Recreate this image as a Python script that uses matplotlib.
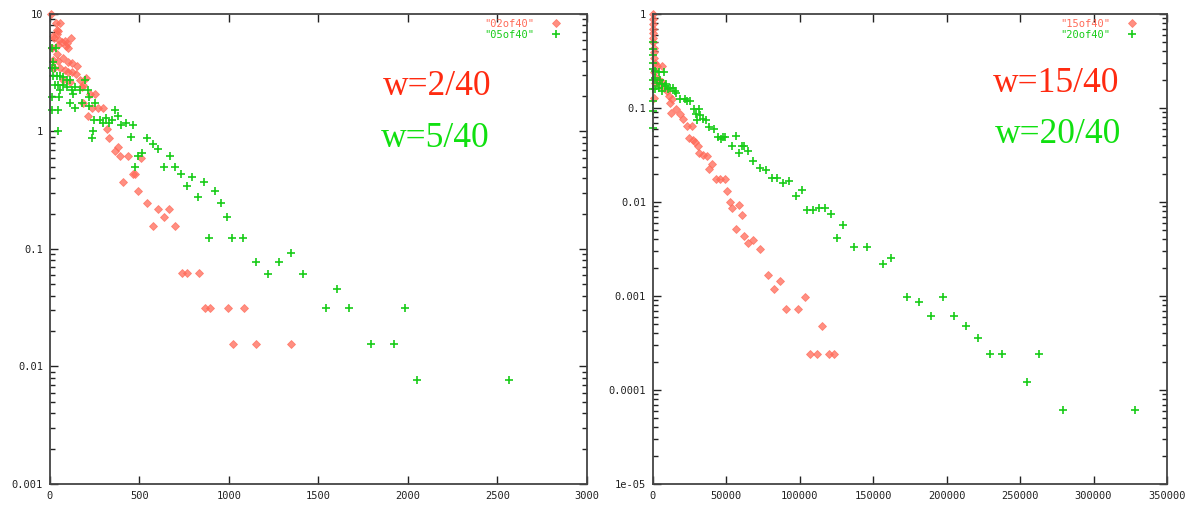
import matplotlib
matplotlib.use("Agg")
import matplotlib.pyplot as plt
from matplotlib.ticker import LogLocator, NullFormatter, FixedLocator, FixedFormatter

# left panel: "02of40" (diamonds) and "05of40" (plus)
x02 = [4, 33, 56, 37, 46, 18, 41, 22, 52, 65, 84, 93, 117, 102, 89, 46, 9, 37, 18, 46,
       74, 102, 121, 153, 24, 56, 84, 102, 121, 145, 167, 201, 186, 74, 112, 177, 223, 251, 186, 233,
       270, 294, 214, 316, 331, 363, 378, 391, 434, 508, 466, 475, 410, 493, 540, 605, 666, 637, 573, 698,
       737, 767, 832, 864, 894, 993, 1085, 1025, 1151, 1349]
y02 = [10, 8.4, 8.4, 7.3, 7.1, 6.5, 6.8, 6.2, 6.0, 5.8, 5.9, 5.7, 6.2, 5.1, 5.3, 5.4, 5.1, 4.6, 4.06, 4.0,
       4.2, 3.9, 3.85, 3.6, 3.45, 3.45, 3.33, 3.2, 3.2, 3.1, 2.74, 2.83, 2.49, 2.74, 2.65, 2.38, 2.08, 2.08, 1.76, 1.6,
       1.6, 1.57, 1.36, 1.06, 0.875, 0.687, 0.743, 0.618, 0.618, 0.591, 0.435, 0.435, 0.374, 0.31, 0.248, 0.219, 0.219, 0.186, 0.157, 0.157,
       0.0625, 0.0625, 0.0625, 0.03125, 0.03125, 0.03125, 0.03125, 0.0156, 0.0156, 0.0156]

x05 = [9, 33, 18, 9, 28, 18, 37, 56, 74, 93, 112, 28, 46, 74, 56, 121, 167, 214, 126, 9,
       52, 93, 140, 195, 220, 9, 46, 46, 112, 140, 177, 220, 246, 251, 279, 298, 313, 331, 348, 363,
       378, 395, 424, 465, 450, 238, 233, 540, 574, 605, 493, 512, 477, 637, 670, 698, 732, 763, 795, 860,
       829, 922, 953, 987, 890, 1019, 1080, 1151, 1281, 1349, 1216, 1412, 1603, 1541, 1668, 1986, 1794, 1921, 2050, 2565]
y05 = [5.1, 5.1, 3.93, 3.45, 3.45, 2.97, 2.97, 2.97, 2.89, 2.74, 2.74, 2.49, 2.49, 2.49, 2.25, 2.25, 2.25, 2.25, 2.08, 1.98,
       1.98, 2.41, 2.38, 2.74, 1.98, 1.52, 1.52, 1.0, 1.76, 1.6, 1.74, 1.65, 1.25, 1.74, 1.25, 1.17, 1.29, 1.17, 1.25, 1.52,
       1.36, 1.13, 1.17, 1.13, 0.89, 1.0, 0.887, 0.887, 0.778, 0.715, 0.618, 0.66, 0.5, 0.5, 0.618, 0.5, 0.435, 0.343, 0.407, 0.374,
       0.279, 0.312, 0.248, 0.186, 0.125, 0.125, 0.125, 0.077, 0.077, 0.093, 0.0612, 0.0612, 0.046, 0.03125, 0.03125, 0.03125, 0.0156, 0.0156, 0.0077, 0.0077]

# right panel: "15of40" (diamonds) and "20of40" (plus)
x15 = [0, 100, 100, 200, 200, 300, 300, 400, 400, 500, 1500, 2700, 6100, 1000, 2300, 3900, 6100, 1200, 5000, 7300,
       9600, 10700, 500, 12700, 11600, 15700, 12000, 18400, 20200, 22900, 26300, 24700, 27500, 28600, 30900, 31600, 34300, 36600, 39900, 38100,
       42900, 45600, 49000, 50600, 52400, 54100, 58600, 60400, 56500, 62000, 68300, 64700, 72900, 78000, 86200, 82500, 103300, 90600, 98700, 114900,
       106900, 111400, 119600, 123000]
y15 = [1.0, 0.88, 0.78, 0.70, 0.63, 0.56, 0.50, 0.44, 0.39, 0.343, 0.30, 0.28, 0.28, 0.24, 0.21, 0.20, 0.19, 0.186, 0.175, 0.165,
       0.15, 0.134, 0.129, 0.124, 0.114, 0.097, 0.089, 0.086, 0.077, 0.064, 0.064, 0.048, 0.046, 0.043, 0.039, 0.033, 0.032, 0.031, 0.0256, 0.0223,
       0.0177, 0.0177, 0.0174, 0.0131, 0.0101, 0.0086, 0.0093, 0.0072, 0.0052, 0.0044, 0.0039, 0.0037, 0.0032, 0.00169, 0.00143, 0.0012, 0.00098, 0.00073, 0.00073, 0.00048,
       0.000244, 0.000244, 0.000244, 0.000244]

x20 = [0, 300, 0, 300, 0, 300, 0, 300, 300, 0, 1600, 3900, 7300, 1600, 5000, 2700, 6100, 8900, 3900, 8400,
       11600, 13400, 1600, 6100, 10500, 15000, 15700, 18400, 21800, 23400, 25200, 27900, 31600, 29300, 32000, 30200, 34300, 36100, 38400, 41500,
       44500, 47400, 49000, 46100, 56500, 54100, 60400, 62200, 58800, 64900, 68300, 72900, 76700, 80800, 84700, 88800, 92600, 101200, 97200, 104600,
       109200, 113300, 117400, 121000, 129200, 125100, 137100, 145500, 156400, 162000, 172700, 180900, 189000, 197200, 205300, 213400, 221600, 229800, 237900, 262900,
       255000, 279500, 328100]
y20 = [0.50, 0.42, 0.37, 0.30, 0.26, 0.20, 0.16, 0.12, 0.093, 0.062, 0.25, 0.24, 0.24, 0.21, 0.20, 0.186, 0.178, 0.178, 0.165, 0.17,
       0.165, 0.165, 0.158, 0.15, 0.158, 0.152, 0.146, 0.126, 0.124, 0.119, 0.119, 0.097, 0.097, 0.086, 0.084, 0.074, 0.076, 0.074, 0.063, 0.06,
       0.0496, 0.0496, 0.0496, 0.047, 0.05, 0.039, 0.039, 0.039, 0.033, 0.035, 0.0273, 0.0232, 0.0217, 0.0182, 0.0182, 0.0158, 0.0167, 0.0133, 0.0116, 0.0082,
       0.0083, 0.0086, 0.0086, 0.0075, 0.0057, 0.0041, 0.0033, 0.0033, 0.00217, 0.00256, 0.00098, 0.00086, 0.00061, 0.00098, 0.00061, 0.00048, 0.00036, 0.000244, 0.000244, 0.000244,
       0.000122, 6.1e-5, 6.1e-5]

RED = '#ff6a58'
GREEN = '#18cc18'
MONO = 'DejaVu Sans Mono'


def style_axes(ax, xmax, xstep, ymin, ymax, ylabels):
    ax.set_yscale('log')
    ax.set_xlim(0, xmax)
    ax.set_ylim(ymin, ymax)
    ax.xaxis.set_major_locator(FixedLocator(list(range(0, xmax + 1, xstep))))
    ax.set_xticklabels([str(v) for v in range(0, xmax + 1, xstep)])
    ax.yaxis.set_major_locator(LogLocator(base=10, numticks=20))
    ax.yaxis.set_minor_locator(LogLocator(base=10, subs=range(2, 10), numticks=20))
    ax.yaxis.set_minor_formatter(NullFormatter())
    decades = [ymin * 10 ** i for i in range(len(ylabels))]
    ax.yaxis.set_major_locator(FixedLocator(decades))
    ax.yaxis.set_major_formatter(FixedFormatter(ylabels))
    ax.tick_params(which='both', direction='in', top=True, right=True,
                   colors='#222222', labelsize=7.5, width=1.0)
    ax.tick_params(which='major', length=6, pad=5)
    ax.tick_params(which='minor', length=3.5)
    for lab in ax.get_xticklabels() + ax.get_yticklabels():
        lab.set_family(MONO)
    for sp in ax.spines.values():
        sp.set_color('#444444')
        sp.set_linewidth(1.3)


fig = plt.figure(figsize=(11.87, 5.07), dpi=100)
ax1 = fig.add_axes([0.0421, 0.0454, 0.4524, 0.927])
ax2 = fig.add_axes([0.5501, 0.0454, 0.4330, 0.927])

for ax, xa, ya, xb, yb, la, lb in [(ax1, x02, y02, x05, y05, '"02of40"', '"05of40"'),
                                    (ax2, x15, y15, x20, y20, '"15of40"', '"20of40"')]:
    ax.plot(xa, ya, linestyle='none', marker='D', ms=3.6, mfc=RED, mec=RED, mew=0.6,
            alpha=0.75, label=la, clip_on=False)
    ax.plot(xb, yb, linestyle='none', marker='+', ms=5.5, mec=GREEN, mew=1.2,
            label=lb, clip_on=False)

style_axes(ax1, 3000, 500, 1e-3, 10, ['0.001', '0.01', '0.1', '1', '10'])
style_axes(ax2, 350000, 50000, 1e-5, 1, ['1e-05', '0.0001', '0.001', '0.01', '0.1', '1'])

for ax, anchor in [(ax1, 0.952), (ax2, 0.942)]:
    leg = ax.legend(loc='upper right', bbox_to_anchor=(anchor, 0.99), frameon=False,
                    markerfirst=False, handlelength=1.0, handletextpad=1.6,
                    borderpad=0, borderaxespad=0, labelspacing=0.1,
                    prop={'family': MONO, 'size': 7.5})
    for txt, c in zip(leg.get_texts(), [RED, GREEN]):
        txt.set_color(c)

big = {'family': 'Liberation Serif', 'size': 25.5}
ax1.text(0.620, 0.828, 'w=2/40', transform=ax1.transAxes, color='#ff2a10', va='baseline', **big)
ax1.text(0.616, 0.717, 'w=5/40', transform=ax1.transAxes, color='#10e010', va='baseline', **big)
ax2.text(0.661, 0.834, 'w=15/40', transform=ax2.transAxes, color='#ff2a10', va='baseline', **big)
ax2.text(0.665, 0.726, 'w=20/40', transform=ax2.transAxes, color='#10e010', va='baseline', **big)

plt.savefig('out.png', dpi=100)
